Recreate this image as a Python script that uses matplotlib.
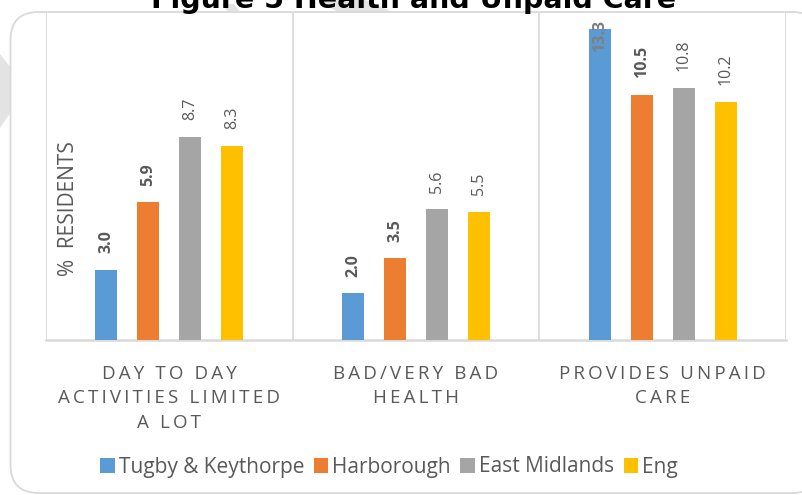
import numpy as np
import matplotlib
matplotlib.use("Agg")
import matplotlib.pyplot as plt
from matplotlib.patches import FancyBboxPatch, Polygon

# data
categories = [
    "DAY TO DAY\nACTIVITIES LIMITED\nA LOT",
    "BAD/VERY BAD\nHEALTH",
    "PROVIDES UNPAID\nCARE",
]
series_names = ["Tugby & Keythorpe", "Harborough", "East Midlands", "Eng"]
tugby = [3.0, 2.0, 13.3]
harborough = [5.9, 3.5, 10.5]
east_midlands = [8.7, 5.6, 10.8]
england = [8.3, 5.5, 10.2]
series_values = [tugby, harborough, east_midlands, england]
label_bold = [True, True, False, False]
colors = ["#5B9BD5", "#ED7D31", "#A5A5A5", "#FFC000"]

W, H = 803, 495
TXT = "#595959"
GRID = "#D9D9D9"
FONTS = ["Open Sans", "DejaVu Sans"]


def spaced(text):
    # fake the wide letter spacing of the category labels
    return "\n".join("\u2009".join(line) for line in text.split("\n"))


fig = plt.figure(figsize=(W / 100, H / 100), dpi=100)
fig.patch.set_facecolor("white")

# bits of a watermark peeking out behind the chart box
wm = dict(closed=True, transform=fig.transFigure, facecolor="#E3E3E3", edgecolor="none", zorder=0)
fig.patches.append(Polygon([(0, 1 - 54 / H), (11 / W, 1 - 68 / H), (11 / W, 1 - 112 / H), (0, 1 - 128 / H)], **wm))
fig.patches.append(Polygon([(318 / W, 1.0), (366 / W, 1.0), (392 / W, 1 - 12 / H), (338 / W, 1 - 12 / H)], **wm))
fig.patches.append(Polygon([(222 / W, 1 - 4 / H), (234 / W, 1 - 4 / H), (240 / W, 1 - 12 / H), (228 / W, 1 - 12 / H)], **wm))

# rounded chart box, right side runs off the picture
box = FancyBboxPatch((10.5 / W, 2 / H), 810 / W, (H - 12) / H - 2 / H,
                     boxstyle="round,pad=0,rounding_size=0.035",
                     transform=fig.transFigure, facecolor="white", edgecolor=GRID, linewidth=1.3,
                     mutation_aspect=W / H, zorder=1)
fig.patches.append(box)

ax = fig.add_axes([46 / W, 1 - 340 / H, (786 - 46) / W, (340 - 13) / H])
ax.set_facecolor("none")
ax.set_zorder(2)

n = len(series_values)
x = np.arange(len(categories))
step = 0.17
width = 0.089
ymax = 14

for i, (name, vals) in enumerate(zip(series_names, series_values)):
    pos = x + (i - (n - 1) / 2) * step
    ax.bar(pos, vals, width, color=colors[i], label=name, zorder=3)
    for px, v in zip(pos, vals):
        weight = "bold" if label_bold[i] else "normal"
        if v + 2.0 > ymax:
            # no room above the bar: pushed down onto it
            ax.annotate(f"{v:.1f}", (px, ymax), xytext=(0, -5), textcoords="offset points",
                        ha="center", va="top", rotation=90, fontsize=11.5, color="#7F7F7F",
                        fontweight=weight, family=FONTS, zorder=4, annotation_clip=False)
        else:
            ax.annotate(f"{v:.1f}", (px, v), xytext=(0, 12), textcoords="offset points",
                        ha="center", va="bottom", rotation=90, fontsize=11.5, color=TXT,
                        fontweight=weight, family=FONTS, zorder=4)

ax.set_xlim(-0.5, len(categories) - 0.5)
ax.set_ylim(0, ymax)

# separators between categories
for b in np.arange(len(categories) + 1) - 0.5:
    ax.axvline(b, color=GRID, linewidth=1.2, zorder=1)

for side in ["top", "right", "left"]:
    ax.spines[side].set_visible(False)
ax.spines["bottom"].set_color(GRID)
ax.spines["bottom"].set_linewidth(1.8)

ax.set_yticks([])
ax.set_xticks(x)
ax.set_xticklabels([spaced(c) for c in categories], fontsize=13.5, color=TXT,
                   family=FONTS, linespacing=1.45, va="top")
ax.tick_params(axis="x", length=0, pad=18)

fig.text(68 / W, 1 - 209 / H, "%  RESIDENTS", rotation=90, ha="center", va="center",
         fontsize=15, color=TXT, family=FONTS)

fig.text(414 / W, 1 - 8 / H, "Figure 5 Health and Unpaid Care", ha="center", va="baseline",
         fontsize=20.5, fontweight="bold", color="black", family="DejaVu Sans")

fig.legend(loc="center", bbox_to_anchor=(389 / W, 1 - 467 / H), ncol=4, frameon=False,
           prop={"family": FONTS, "size": 15}, labelcolor=TXT, handlelength=0.7,
           handleheight=0.7, handletextpad=0.2, columnspacing=0.45)

fig.savefig("out.png", dpi=100)
